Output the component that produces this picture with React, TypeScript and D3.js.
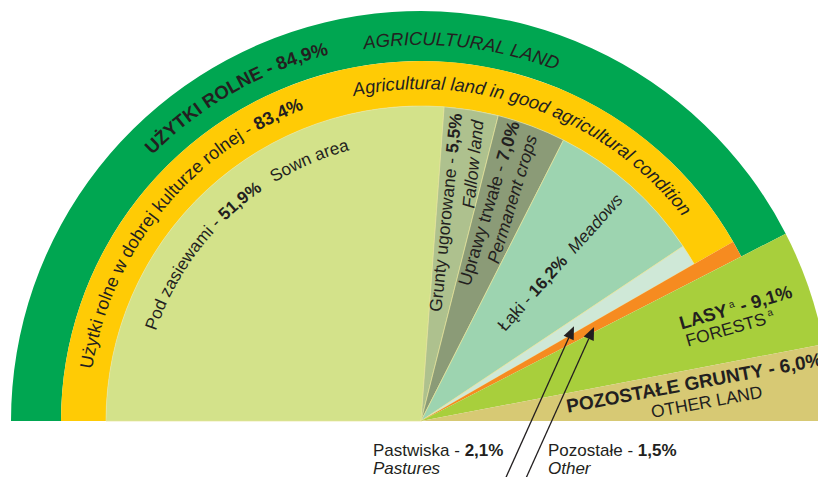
import React from 'react';
import * as d3 from 'd3';

// ---------- DATA ----------
const landNames = ['UŻYTKI ROLNE', 'LASY', 'POZOSTAŁE GRUNTY'];
const landEnglish = ['AGRICULTURAL LAND', 'FORESTS', 'OTHER LAND'];
const landValues = [84.9, 9.1, 6.0];
const goodConditionValue = 83.4;
const agriNames = ['Pod zasiewami', 'Grunty ugorowane', 'Uprawy trwałe', 'Łąki', 'Pastwiska'];
const agriEnglish = ['Sown area', 'Fallow land', 'Permanent crops', 'Meadows', 'Pastures'];
const agriValues = [51.9, 5.5, 7.0, 16.2, 2.1];
const otherAgriValue = 1.5;
const valueLabels = ['84,9%', '9,1%', '6,0%', '83,4%', '51,9%', '5,5%', '7,0%', '16,2%', '2,1%', '1,5%'];

// ---------- STYLE / LAYOUT ----------
const W = 818, H = 477;
const CX = 421, CY = 421;
const R_OUT = 410, R_MID = 360, R_IN = 315;
const landColors = ['#00a651', '#a8cf3c', '#d7c974'];
const goodColor = '#ffcb05';
const agriColors = ['#d3e28a', '#aec18e', '#8b9b77', '#9dd4b0', '#cfe8d7'];
const otherAgriColor = '#f68b20';
const TXT = '#231f20';
const FONT = '"Liberation Sans", Arial, sans-serif';

const rad = (deg: number) => (deg * Math.PI) / 180;
const pt = (r: number, theta: number) => [CX + r * Math.cos(rad(theta)), CY - r * Math.sin(rad(theta))];
const ptA = (r: number, a: number) => [CX + r * Math.sin(a), CY - r * Math.cos(a)];

function ArcText({ id, r, theta, size, children, italic, bold }: any) {
  const d = `M ${CX - r} ${CY} A ${r} ${r} 0 0 1 ${CX + r} ${CY}`;
  return (
    <g>
      <path id={id} d={d} fill="none" stroke="none" />
      <text fontSize={size} fill={TXT} fontFamily={FONT} fontStyle={italic ? 'italic' : 'normal'} fontWeight={bold ? 'bold' : 'normal'}>
        <textPath href={`#${id}`} startOffset={`${((180 - theta) / 180) * 100}%`} textAnchor="middle">
          {children}
        </textPath>
      </text>
    </g>
  );
}

function RadialText({ r, theta, rot, size, children, italic, bold }: any) {
  const [x, y] = pt(r, theta);
  return (
    <text
      transform={`translate(${x},${y}) rotate(${-rot})`}
      textAnchor="middle"
      dy="0.35em"
      fontSize={size}
      fill={TXT}
      fontFamily={FONT}
      fontStyle={italic ? 'italic' : 'normal'}
      fontWeight={bold ? 'bold' : 'normal'}
    >
      {children}
    </text>
  );
}

export default function App() {
  const pct = d3.scaleLinear().domain([0, 100]).range([-Math.PI / 2, Math.PI / 2]);
  const inner = d3
    .scaleLinear()
    .domain([0, d3.sum(agriValues)])
    .range([pct(0), pct(goodConditionValue)]);
  const arc = d3.arc<any>();

  const landCum = Array.from(d3.cumsum(landValues));
  const agriCum = Array.from(d3.cumsum(agriValues));

  const agriArcs = agriValues.map((v, i) => ({
    startAngle: inner(agriCum[i] - v),
    endAngle: inner(agriCum[i]),
    innerRadius: 0,
    outerRadius: R_IN,
    color: agriColors[i],
  }));
  const otherStart = pct(goodConditionValue);
  const otherEnd = pct(goodConditionValue + otherAgriValue);

  const pastMid = (agriArcs[4].startAngle + agriArcs[4].endAngle) / 2;
  const otherMid = (otherStart + otherEnd) / 2;
  const tips = [ptA(180, pastMid), ptA(197, otherMid)];
  const slope = 0.45;
  const arrows = tips.map(([x, y]) => {
    const ty = H + 5;
    const tx = x - slope * (ty - y);
    const len = Math.hypot(tx - x, ty - y);
    const ux = (tx - x) / len, uy = (ty - y) / len;
    const hl = 13, hw = 5.5;
    const bx = x + ux * hl, by = y + uy * hl;
    const head = [
      [x, y],
      [bx - uy * hw, by + ux * hw],
      [bx + uy * hw, by - ux * hw],
    ];
    return { x, y, tx, ty, bx, by, head };
  });

  return (
    <svg width={W} height={H} style={{ position: 'absolute', left: 0, top: 0, background: '#fff' }}>
      <path
        d={arc({ innerRadius: R_MID, outerRadius: R_OUT, startAngle: pct(0), endAngle: pct(landCum[0]) }) as string}
        transform={`translate(${CX},${CY})`}
        fill={landColors[0]}
      />
      <path
        d={arc({ innerRadius: R_IN, outerRadius: R_MID, startAngle: pct(0), endAngle: pct(goodConditionValue) }) as string}
        transform={`translate(${CX},${CY})`}
        fill={goodColor}
      />
      {agriArcs.map((a, i) => (
        <path key={i} d={arc(a) as string} transform={`translate(${CX},${CY})`} fill={a.color} stroke="#e6e49a" strokeWidth={0.7} />
      ))}
      <path
        d={arc({ innerRadius: 0, outerRadius: R_MID, startAngle: otherStart, endAngle: otherEnd }) as string}
        transform={`translate(${CX},${CY})`}
        fill={otherAgriColor}
      />
      {[1, 2].map((i) => (
        <path
          key={i}
          d={arc({ innerRadius: 0, outerRadius: R_OUT, startAngle: pct(landCum[i - 1]), endAngle: pct(landCum[i]) }) as string}
          transform={`translate(${CX},${CY})`}
          fill={landColors[i]}
        />
      ))}

      <ArcText id="t1" r={378} theta={119.7} size={18.5} bold>
        {`${landNames[0]} - ${valueLabels[0]}`}
      </ArcText>
      <ArcText id="t2" r={376} theta={83.8} size={18.5} italic>
        {landEnglish[0]}
      </ArcText>
      <ArcText id="t3" r={333} theta={140.8} size={18}>
        <tspan>{'Użytki rolne w dobrej kulturze rolnej - '}</tspan>
        <tspan fontWeight="bold">{valueLabels[3]}</tspan>
      </ArcText>
      <ArcText id="t4" r={332} theta={69.8} size={18.3} italic>
        {'Agricultural land in good agricultural condition'}
      </ArcText>
      <ArcText id="t5" r={280} theta={133} size={17.2}>
        <tspan>{`${agriNames[0]} - `}</tspan>
        <tspan fontWeight="bold">{valueLabels[4]}</tspan>
        <tspan dx={14}>{agriEnglish[0]}</tspan>
      </ArcText>

      <RadialText r={210} theta={83.3} rot={84} size={17.5}>
        <tspan>{`${agriNames[1]} - `}</tspan>
        <tspan fontWeight="bold">{valueLabels[5]}</tspan>
      </RadialText>
      <RadialText r={262} theta={78.6} rot={84} size={17.5} italic>
        {agriEnglish[1]}
      </RadialText>
      <RadialText r={228} theta={72.7} rot={73} size={18}>
        <tspan>{`${agriNames[2]} - `}</tspan>
        <tspan fontWeight="bold">{valueLabels[6]}</tspan>
      </RadialText>
      <RadialText r={240} theta={67.7} rot={73} size={17.5} italic>
        {agriEnglish[2]}
      </RadialText>
      <RadialText r={211} theta={48.8} rot={48} size={17}>
        <tspan>{`${agriNames[3]} - `}</tspan>
        <tspan fontWeight="bold">{valueLabels[7]}</tspan>
        <tspan dx={10} fontStyle="italic">{agriEnglish[3]}</tspan>
      </RadialText>

      <RadialText r={334.6} theta={19.9} rot={16} size={18.5}>
        <tspan fontWeight="bold">{landNames[1]}</tspan>
        <tspan fontSize={10} dx={3} dy={-7}>a</tspan>
        <tspan fontWeight="bold" dy={7}>{` - ${valueLabels[1]}`}</tspan>
      </RadialText>
      <RadialText r={322.6} theta={16.7} rot={16} size={17.5}>
        <tspan>{landEnglish[1]}</tspan>
        <tspan fontSize={10} dx={3} dy={-7}>a</tspan>
      </RadialText>
      <RadialText r={276} theta={8.0} rot={10.5} size={19}>
        <tspan fontWeight="bold">{`${landNames[2]} - ${valueLabels[2]}`}</tspan>
      </RadialText>
      <RadialText r={286.3} theta={3.86} rot={10.5} size={17.5}>
        {landEnglish[2]}
      </RadialText>

      {arrows.map((a, i) => (
        <g key={i}>
          <line x1={a.tx} y1={a.ty} x2={a.bx} y2={a.by} stroke={TXT} strokeWidth={1.3} />
          <polygon points={a.head.map((p) => p.join(',')).join(' ')} fill={TXT} />
        </g>
      ))}

      <text x={373} y={456} fontSize={17} fill={TXT} fontFamily={FONT}>
        <tspan>{`${agriNames[4]} - `}</tspan>
        <tspan fontWeight="bold">{valueLabels[8]}</tspan>
      </text>
      <text x={373} y={474} fontSize={17} fill={TXT} fontFamily={FONT} fontStyle="italic">
        {agriEnglish[4]}
      </text>
      <text x={548} y={456} fontSize={17} fill={TXT} fontFamily={FONT}>
        <tspan>{'Pozostałe - '}</tspan>
        <tspan fontWeight="bold">{valueLabels[9]}</tspan>
      </text>
      <text x={548} y={474} fontSize={17} fill={TXT} fontFamily={FONT} fontStyle="italic">
        {'Other'}
      </text>
    </svg>
  );
}
